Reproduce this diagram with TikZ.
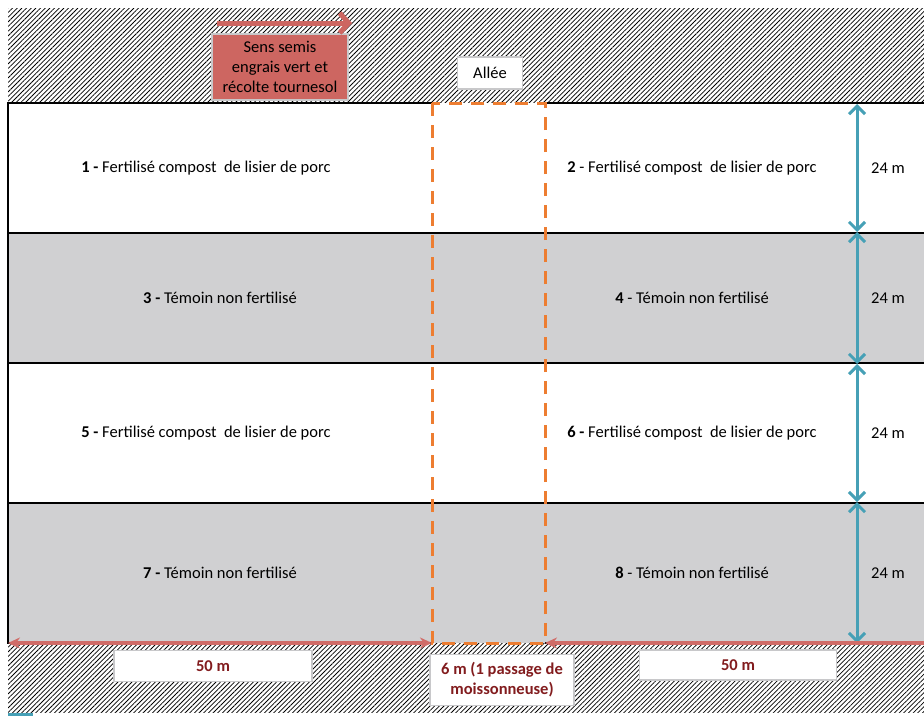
\documentclass[tikz,border=0pt]{standalone}
\usepackage{fontspec}
\setmainfont{Carlito}
\usetikzlibrary{positioning,arrows.meta,patterns.meta}
\definecolor{plotgrey}{RGB}{208,208,210}
\definecolor{alleyorange}{RGB}{237,125,49}
\definecolor{dimblue}{RGB}{70,160,182}
\definecolor{dimred}{RGB}{208,108,104}
\definecolor{sensred}{RGB}{205,102,97}
\definecolor{boxgrey}{RGB}{200,200,202}
\definecolor{labelred}{RGB}{130,28,30}
\tikzset{
    every picture/.style={x=1pt,y=-1pt,font=\fontsize{16.5}{19}\selectfont},
    hatch/.style={pattern={Lines[angle=45,distance=3.3pt,line width=0.75pt]}},
    plotline/.style={line width=2pt,black},
    alley/.style={line width=3pt,alleyorange,dash pattern=on 13pt off 9pt},
    redtip/.style={arrows={Stealth[length=12pt,width=11pt]-Stealth[length=12pt,width=11pt]}},
    redarrow/.style={line width=3.5pt,draw=dimred},
    bluearrow/.style={line width=3pt,dimblue,arrows={Straight Barb[length=8pt,width=16pt,line width=3pt]-Straight Barb[length=8pt,width=16pt,line width=3pt]}},
    sensarrow/.style={line width=5pt,draw=sensred,-{Straight Barb[length=9pt,width=20pt,line width=5pt]}},
    plottext/.style={black},
    dimtext/.style={black},
    labelbox/.style={draw=boxgrey,line width=1.5pt,fill=white,inner sep=0pt},
    dimbox/.style={labelbox,font=\fontsize{16.5}{20}\selectfont\bfseries,text=labelred,align=center},
}

\begin{document}
\begin{tikzpicture}
\useasboundingbox (0,0) rectangle (924,716);
% ground
\fill[hatch] (8,8) rectangle (924,712);
\foreach \yt/\yb/\c in {103/233/white,233/363/plotgrey,363/503/white,503/643/plotgrey}
  \fill[\c] (8,\yt) rectangle (924,\yb);
\draw[plotline] (432,643) -- (8,643) -- (8,103) -- (432,103) (545,103) -- (924,103) (545,643) -- (924,643);
\foreach \y in {233,363,503}
  \draw[plotline] (8,\y) -- (924,\y);
\draw[alley] (432,103) rectangle (545,643);

% plots
\node[plottext] (p1) at (206,168) {\textbf{1 -} Fertilisé compost~ de lisier de porc};
\node[plottext] (p2) at (692,168) {\textbf{2} - Fertilisé compost~ de lisier de porc};
\node[plottext] (p3) at (220,298) {\textbf{3 -} Témoin non fertilisé};
\node[plottext] (p4) at (692,298) {\textbf{4} - Témoin non fertilisé};
\node[plottext] (p5) at (206,433) {\textbf{5 -} Fertilisé compost~ de lisier de porc};
\node[plottext] (p6) at (692,433) {\textbf{6 -} Fertilisé compost~ de lisier de porc};
\node[plottext] (p7) at (220,573) {\textbf{7 -} Témoin non fertilisé};
\node[plottext] (p8) at (692,573) {\textbf{8} - Témoin non fertilisé};

% widths
\foreach \i/\y in {0/104,1/232,2/364,3/502,4/643}
  \coordinate (h\i) at (857,\y);
\foreach \i/\j in {0/1,1/2,2/3,3/4}
  \draw[bluearrow] (h\i) -- (h\j);
\foreach \y [count=\i] in {168,298,433,573}
  \node[dimtext] (d\i) at (888,\y) {24 m};

% lengths
\coordinate (w0) at (8,643);
\coordinate (a0) at (432,643);
\coordinate (a1) at (545,643);
\coordinate (e0) at (930,643);
\draw[redarrow,redtip] (w0) -- (a0);
\draw[redarrow,-{Stealth[length=12pt,width=11pt]}] (e0) -- (a1);
\node[dimbox,minimum width=198pt,minimum height=31pt] (l1) at (213,666) {50 m};
\node[dimbox,minimum width=144pt,minimum height=51pt] (l2) at (502,680) {6 m (1 passage de\\moissonneuse)};
\node[dimbox,minimum width=197pt,minimum height=30pt] (l3) at (738,665) {50 m};

% direction
\node[labelbox,fill=sensred,align=center,minimum width=136pt,minimum height=66pt,
      font=\fontsize{16.5}{20}\selectfont] (sens) at (280,67) {Sens semis\\engrais vert et\\récolte tournesol};
\coordinate (s0) at (217,23);
\coordinate (s1) at (352,23);
\draw[sensarrow] (s0) -- (s1);
\node[labelbox,minimum width=65pt,minimum height=32pt] (allee) at (490,73) {Allée};

\coordinate (t0) at (8,714);
\coordinate (t1) at (33,714);
\draw[dimblue,line width=3pt] (t0) -- (t1);
\end{tikzpicture}
\end{document}
